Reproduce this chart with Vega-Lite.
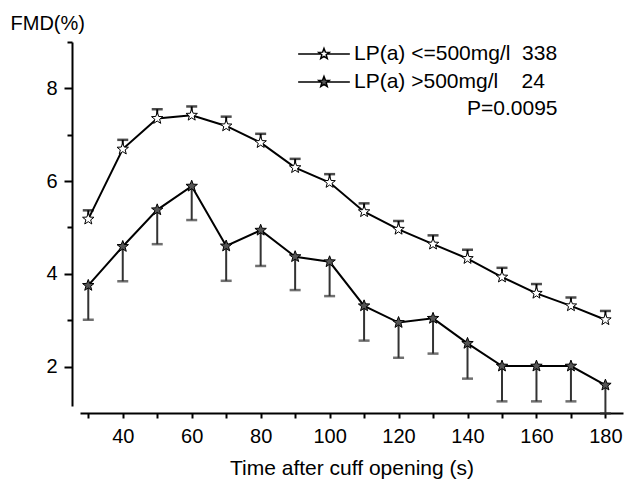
{
  "$schema": "https://vega.github.io/schema/vega-lite/v6.json",
  "width": 543,
  "height": 364,
  "autosize": {"type": "none"},
  "padding": {"left": 80, "top": 42, "right": 1, "bottom": 74},
  "background": "white",
  "config": {
    "view": {"stroke": null},
    "font": "Liberation Sans",
    "axis": {"domainColor": "black", "tickColor": "black", "labelColor": "black", "titleColor": "black", "grid": false, "domainWidth": 2, "tickWidth": 2}
  },
  "data": {
    "values": [
      {"t": 30, "g": "LP(a) <=500mg/l\u00a0\u00a0338", "v": 5.18, "e": 5.37},
      {"t": 40, "g": "LP(a) <=500mg/l\u00a0\u00a0338", "v": 6.69, "e": 6.89},
      {"t": 50, "g": "LP(a) <=500mg/l\u00a0\u00a0338", "v": 7.35, "e": 7.55},
      {"t": 60, "g": "LP(a) <=500mg/l\u00a0\u00a0338", "v": 7.42, "e": 7.61},
      {"t": 70, "g": "LP(a) <=500mg/l\u00a0\u00a0338", "v": 7.19, "e": 7.39},
      {"t": 80, "g": "LP(a) <=500mg/l\u00a0\u00a0338", "v": 6.83, "e": 7.02},
      {"t": 90, "g": "LP(a) <=500mg/l\u00a0\u00a0338", "v": 6.29, "e": 6.48},
      {"t": 100, "g": "LP(a) <=500mg/l\u00a0\u00a0338", "v": 5.97, "e": 6.15},
      {"t": 110, "g": "LP(a) <=500mg/l\u00a0\u00a0338", "v": 5.34, "e": 5.52},
      {"t": 120, "g": "LP(a) <=500mg/l\u00a0\u00a0338", "v": 4.96, "e": 5.14},
      {"t": 130, "g": "LP(a) <=500mg/l\u00a0\u00a0338", "v": 4.64, "e": 4.83},
      {"t": 140, "g": "LP(a) <=500mg/l\u00a0\u00a0338", "v": 4.33, "e": 4.52},
      {"t": 150, "g": "LP(a) <=500mg/l\u00a0\u00a0338", "v": 3.93, "e": 4.13},
      {"t": 160, "g": "LP(a) <=500mg/l\u00a0\u00a0338", "v": 3.58, "e": 3.78},
      {"t": 170, "g": "LP(a) <=500mg/l\u00a0\u00a0338", "v": 3.31, "e": 3.49},
      {"t": 180, "g": "LP(a) <=500mg/l\u00a0\u00a0338", "v": 3.01, "e": 3.2},
      {"t": 30, "g": "LP(a) >500mg/l\u00a0\u00a0\u00a0\u00a024", "v": 3.75, "e": 3.01},
      {"t": 40, "g": "LP(a) >500mg/l\u00a0\u00a0\u00a0\u00a024", "v": 4.59, "e": 3.84},
      {"t": 50, "g": "LP(a) >500mg/l\u00a0\u00a0\u00a0\u00a024", "v": 5.38, "e": 4.64},
      {"t": 60, "g": "LP(a) >500mg/l\u00a0\u00a0\u00a0\u00a024", "v": 5.89, "e": 5.16},
      {"t": 70, "g": "LP(a) >500mg/l\u00a0\u00a0\u00a0\u00a024", "v": 4.6, "e": 3.85},
      {"t": 80, "g": "LP(a) >500mg/l\u00a0\u00a0\u00a0\u00a024", "v": 4.94, "e": 4.17},
      {"t": 90, "g": "LP(a) >500mg/l\u00a0\u00a0\u00a0\u00a024", "v": 4.37, "e": 3.65},
      {"t": 100, "g": "LP(a) >500mg/l\u00a0\u00a0\u00a0\u00a024", "v": 4.26, "e": 3.52},
      {"t": 110, "g": "LP(a) >500mg/l\u00a0\u00a0\u00a0\u00a024", "v": 3.31, "e": 2.56},
      {"t": 120, "g": "LP(a) >500mg/l\u00a0\u00a0\u00a0\u00a024", "v": 2.95, "e": 2.19},
      {"t": 130, "g": "LP(a) >500mg/l\u00a0\u00a0\u00a0\u00a024", "v": 3.04, "e": 2.28},
      {"t": 140, "g": "LP(a) >500mg/l\u00a0\u00a0\u00a0\u00a024", "v": 2.5, "e": 1.74},
      {"t": 150, "g": "LP(a) >500mg/l\u00a0\u00a0\u00a0\u00a024", "v": 2.01, "e": 1.25},
      {"t": 160, "g": "LP(a) >500mg/l\u00a0\u00a0\u00a0\u00a024", "v": 2.01, "e": 1.25},
      {"t": 170, "g": "LP(a) >500mg/l\u00a0\u00a0\u00a0\u00a024", "v": 2.01, "e": 1.25},
      {"t": 180, "g": "LP(a) >500mg/l\u00a0\u00a0\u00a0\u00a024", "v": 1.6, "e": 0.99}
    ]
  },
  "encoding": {
    "x": {
      "field": "t",
      "type": "quantitative",
      "scale": {"domain": [27.6, 185.1], "nice": false, "zero": false},
      "axis": {
        "values": [30, 40, 50, 60, 70, 80, 90, 100, 110, 120, 130, 140, 150, 160, 170, 180],
        "labelExpr": "datum.value % 20 === 0 ? datum.label : ''",
        "labelOverlap": false,
        "labelFlush": false,
        "offset": 7,
        "tickSize": 5,
        "labelPadding": 8,
        "labelFontSize": 20,
        "title": "Time after cuff opening (s)",
        "titleFontSize": 21,
        "titleFontWeight": "normal",
        "titlePadding": 11
      }
    },
    "y": {
      "field": "v",
      "type": "quantitative",
      "scale": {"domain": [1.15, 9.0], "nice": false, "zero": false},
      "axis": {
        "values": [2, 3, 4, 5, 6, 7, 8, 9],
        "labelExpr": "datum.value % 2 === 0 ? datum.label : ''",
        "labelOverlap": false,
        "labelFlush": false,
        "offset": 8,
        "tickSize": {"condition": {"test": "datum.value % 2 === 0", "value": 8}, "value": 5},
        "labelPadding": 7,
        "labelFontSize": 20,
        "title": "FMD(%)",
        "titleAngle": 0,
        "titleAlign": "left",
        "titleBaseline": "middle",
        "titleX": -62,
        "titleY": -19,
        "titleFontSize": 20,
        "titleFontWeight": "normal"
      }
    }
  },
  "layer": [
    {
      "mark": {"type": "rule", "strokeWidth": 2},
      "encoding": {
        "y2": {"field": "e"},
        "color": {
          "field": "g",
          "type": "nominal",
          "sort": null,
          "scale": {"range": ["black", "#333333"]},
          "legend": null
        }
      }
    },
    {
      "mark": {"type": "tick", "orient": "horizontal", "size": 11, "thickness": 2.5},
      "encoding": {
        "y": {"field": "e", "type": "quantitative"},
        "color": {
          "field": "g",
          "type": "nominal",
          "sort": null,
          "scale": {"range": ["black", "#333333"]},
          "legend": null
        }
      }
    },
    {
      "mark": {"type": "line", "color": "black", "strokeWidth": 2},
      "encoding": {
        "detail": {"field": "g", "type": "nominal"}
      }
    },
    {
      "mark": {
        "type": "point",
        "shape": "M0,-1L0.247,-0.34L0.951,-0.309L0.399,0.13L0.588,0.809L0,0.42L-0.588,0.809L-0.399,0.13L-0.951,-0.309L-0.247,-0.34Z",
        "size": 144,
        "filled": true,
        "stroke": "black",
        "strokeWidth": 1,
        "opacity": 1
      },
      "encoding": {
        "fill": {
          "field": "g",
          "type": "nominal",
          "sort": null,
          "scale": {"range": ["white", "#555555"]},
          "legend": {
            "orient": "none",
            "legendX": 233.5,
            "legendY": 1.5,
            "padding": 0,
            "title": "P=0.0095",
            "titleOrient": "bottom",
            "titleAnchor": "end",
            "titleFontSize": 21,
            "titleFontWeight": "normal",
            "titleColor": "black",
            "titlePadding": 5,
            "labelFontSize": 21,
            "labelColor": "black",
            "labelOffset": 19.5,
            "labelLimit": 400,
            "rowPadding": 6,
            "symbolType": "M-4.7,0H-0.55M0.55,0H4.7M0,-1L0.247,-0.34L0.951,-0.309L0.399,0.13L0.588,0.809L0,0.42L-0.588,0.809L-0.399,0.13L-0.951,-0.309L-0.247,-0.34Z",
            "symbolSize": 121,
            "symbolStrokeWidth": 1.5,
            "symbolStrokeColor": "black"
          }
        }
      }
    }
  ]
}
